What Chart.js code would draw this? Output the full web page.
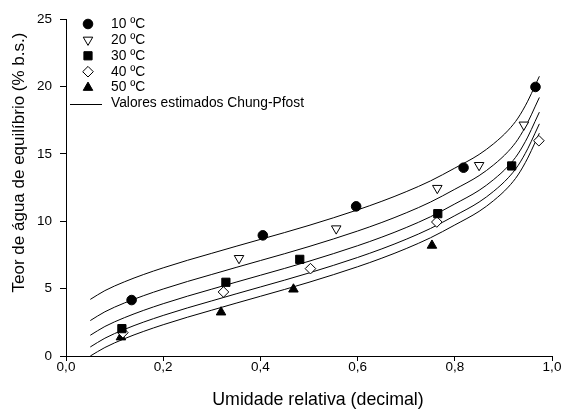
<!DOCTYPE html>
<html><head><meta charset="utf-8">
<script src="https://cdn.jsdelivr.net/npm/chart.js@4/dist/chart.umd.min.js"></script>
<style>html,body{margin:0;padding:0;background:#fff}#wrap{width:568px;height:410px}</style>
</head><body><div id="wrap"><canvas id="c" width="568" height="410"></canvas></div>
<script>
// ---- data ----
const seriesNames = ['10 ºC', '20 ºC', '30 ºC', '40 ºC', '50 ºC'];
const lineLabel = 'Valores estimados Chung-Pfost';

const rh10 = [0.135, 0.405, 0.597, 0.818, 0.966];
const eq10 = [4.15, 8.95, 11.1, 13.97, 19.96];
const rh20 = [0.356, 0.556, 0.764, 0.850, 0.942];
const eq20 = [7.25, 9.45, 12.45, 14.15, 17.15];
const rh30 = [0.115, 0.329, 0.481, 0.765, 0.917];
const eq30 = [2.03, 5.47, 7.17, 10.56, 14.1];
const rh40 = [0.117, 0.324, 0.503, 0.763, 0.973];
const eq40 = [1.73, 4.75, 6.48, 9.94, 15.97];
const rh50 = [0.113, 0.319, 0.468, 0.753];
const eq50 = [1.4, 3.25, 4.95, 8.2];

// estimated curves
const curveRH = [0.05, 0.08, 0.12, 0.16, 0.2, 0.25, 0.3, 0.35, 0.4, 0.45, 0.5, 0.55, 0.6, 0.65, 0.7, 0.75, 0.8, 0.85, 0.88, 0.91, 0.93, 0.95, 0.965, 0.974];
const curve10 = [4.20, 4.85, 5.50, 6.05, 6.54, 7.10, 7.62, 8.14, 8.65, 9.16, 9.69, 10.25, 10.84, 11.48, 12.19, 12.99, 13.94, 14.95, 15.75, 16.75, 17.65, 18.90, 20.05, 20.75];
const curve20 = [2.63, 3.28, 3.93, 4.48, 4.97, 5.53, 6.05, 6.57, 7.08, 7.59, 8.12, 8.68, 9.27, 9.91, 10.62, 11.42, 12.37, 13.38, 14.18, 15.18, 16.08, 17.33, 18.48, 19.18];
const curve30 = [1.54, 2.19, 2.84, 3.39, 3.88, 4.44, 4.96, 5.48, 5.99, 6.50, 7.03, 7.59, 8.18, 8.82, 9.53, 10.33, 11.28, 12.29, 13.09, 14.09, 14.99, 16.24, 17.39, 18.09];
const curve40 = [0.67, 1.32, 1.97, 2.52, 3.01, 3.57, 4.09, 4.61, 5.12, 5.63, 6.16, 6.72, 7.31, 7.95, 8.66, 9.46, 10.41, 11.42, 12.22, 13.22, 14.12, 15.37, 16.52, 17.22];
const curve50 = [0.00, 0.63, 1.28, 1.83, 2.32, 2.88, 3.40, 3.92, 4.43, 4.94, 5.47, 6.03, 6.62, 7.26, 7.97, 8.77, 9.72, 10.73, 11.53, 12.53, 13.43, 14.68, 15.83, 16.53];

const xTickLabels = ['0,0', '0,2', '0,4', '0,6', '0,8', '1,0'];
const yTickLabels = ['0', '5', '10', '15', '20', '25'];
const xTitle = 'Umidade relativa (decimal)';
const yTitle = 'Teor de água de equilíbrio (% b.s.)';

// ---- build datasets ----
const FONT = '"Liberation Sans", Arial, Helvetica, sans-serif';
const zip = (xs, ys) => xs.map((x, i) => ({x: x, y: ys[i]}));
const markerStyles = [
  {pointStyle: 'circle', radius: 4.8, rotation: 0, bg: '#000'},
  {pointStyle: 'triangle', radius: 5.5, rotation: 180, bg: '#fff'},
  {pointStyle: 'rect', radius: 5.8, rotation: 0, bg: '#000'},
  {pointStyle: 'rectRot', radius: 5.3, rotation: 0, bg: '#fff'},
  {pointStyle: 'triangle', radius: 5.5, rotation: 0, bg: '#000'}
];
const pointSets = [[rh10, eq10], [rh20, eq20], [rh30, eq30], [rh40, eq40], [rh50, eq50]];
const curveSets = [curve10, curve20, curve30, curve40, curve50];

const datasets = [];
pointSets.forEach((p, i) => {
  const m = markerStyles[i];
  datasets.push({
    label: seriesNames[i], isPoints: true, type: 'scatter',
    data: zip(p[0], p[1]), showLine: false,
    pointStyle: m.pointStyle, pointRadius: m.radius, pointRotation: m.rotation,
    pointBackgroundColor: m.bg, pointBorderColor: '#000', pointBorderWidth: 1,
    backgroundColor: m.bg, borderColor: '#000', order: 1
  });
});
curveSets.forEach((c, i) => {
  datasets.push({
    label: lineLabel, type: 'line', data: zip(curveRH, c),
    borderColor: '#000', borderWidth: 1, pointRadius: 0, fill: false,
    cubicInterpolationMode: 'monotone', order: 2
  });
});

// ---- legend drawn inside the plot area + axis titles ----
const legendPlugin = {
  id: 'insideLegend',
  afterDraw(chart) {
    const ctx = chart.ctx;
    ctx.save();
    ctx.font = '13.8px ' + FONT;
    ctx.textBaseline = 'middle';
    ctx.textAlign = 'left';
    const mx = 88, tx = 111, y0 = 24, dy = 15.9;
    const pts = chart.data.datasets.filter(d => d.isPoints);
    pts.forEach((d, i) => {
      const y = y0 + i * dy;
      ctx.fillStyle = d.pointBackgroundColor;
      ctx.strokeStyle = '#000';
      ctx.lineWidth = 1;
      Chart.helpers.drawPoint(ctx, {pointStyle: d.pointStyle, radius: d.pointRadius, rotation: d.pointRotation, borderWidth: 1}, mx, y);
      ctx.fillStyle = '#000';
      ctx.fillText(d.label, tx, y);
    });
    const yl = y0 + pts.length * dy;
    ctx.beginPath();
    ctx.strokeStyle = '#000';
    ctx.lineWidth = 1;
    ctx.moveTo(70, Math.round(yl) + 0.5);
    ctx.lineTo(102, Math.round(yl) + 0.5);
    ctx.stroke();
    ctx.fillStyle = '#000';
    ctx.fillText(lineLabel, tx, yl);

    // axis titles
    ctx.textAlign = 'center';
    ctx.font = '17.8px ' + FONT;
    ctx.fillText(xTitle, 318, 400);
    ctx.translate(19, 162.5);
    ctx.rotate(-Math.PI / 2);
    ctx.font = '17px ' + FONT;
    ctx.fillText(yTitle, 0, 0);
    ctx.restore();
  }
};

new Chart(document.getElementById('c'), {
  type: 'scatter',
  data: {datasets: datasets},
  plugins: [legendPlugin],
  options: {
    responsive: false, animation: false, devicePixelRatio: 1,
    layout: {padding: {left: 4, right: 16, top: 19, bottom: 0}},
    plugins: {legend: {display: false}, tooltip: {enabled: false}},
    scales: {
      x: {
        type: 'linear', min: 0, max: 1,
        afterFit: s => { s.height = 54; },
        ticks: {stepSize: 0.2, color: '#000', padding: 0, maxRotation: 0, autoSkip: false,
          font: {family: FONT, size: 13.5, lineHeight: 1},
          callback: (v, i) => xTickLabels[i]},
        grid: {display: true, drawOnChartArea: false, drawTicks: true, tickLength: 5, color: '#000', lineWidth: 1},
        border: {display: true, color: '#000', width: 1},
        title: {display: false}
      },
      y: {
        type: 'linear', min: 0, max: 25,
        afterFit: s => { s.width = 62; },
        ticks: {stepSize: 5, color: '#000', padding: 8, autoSkip: false,
          font: {family: FONT, size: 13.5},
          callback: (v, i) => yTickLabels[i]},
        grid: {display: true, drawOnChartArea: false, drawTicks: true, tickLength: 6, color: '#000', lineWidth: 1},
        border: {display: true, color: '#000', width: 1},
        title: {display: false}
      }
    }
  }
});
</script>
</body></html>
